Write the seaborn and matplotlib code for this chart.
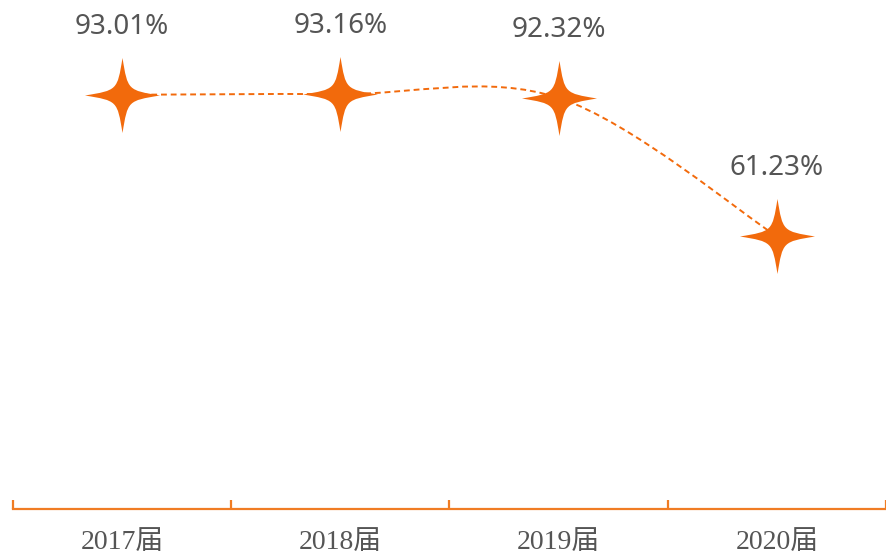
import numpy as np
import pandas as pd
import matplotlib
matplotlib.use("Agg")
import matplotlib.pyplot as plt
import seaborn as sns
from matplotlib.path import Path
from matplotlib.patches import PathPatch

ORANGE = "#F26A0C"
AXIS = "#F07C24"
GRAY = "#555555"

years = ["2017届", "2018届", "2019届", "2020届"]
rates = [93.01, 93.16, 92.32, 61.23]
labels = ["93.01%", "93.16%", "92.32%", "61.23%"]

sns.set_theme(style="white")
plt.rcParams["font.family"] = ["Noto Sans", "DejaVu Sans"]

df = pd.DataFrame({"pos": np.arange(len(years)), "rate": rates})

# four-pointed sparkle marker
k = 0.14
verts = [(0, 1), (k, k), (k, k), (1, 0),
         (k, -k), (k, -k), (0, -1),
         (-k, -k), (-k, -k), (-1, 0),
         (-k, k), (-k, k), (0, 1), (0, 1)]
codes = [Path.MOVETO] + [Path.CURVE4] * 12 + [Path.CLOSEPOLY]
star = Path(verts, codes)

fig = plt.figure(figsize=(8.87, 5.57), dpi=100)
ax = fig.add_axes([13 / 887, 48 / 557, 873 / 887, 509 / 557])

# smooth dashed curve through the points (cardinal bezier)
pts = df[["pos", "rate"]].to_numpy(dtype=float)
s = 1 / 6
pv = [tuple(pts[0])]
pc = [Path.MOVETO]
n = len(pts)
for i in range(n - 1):
    p0 = pts[i - 1] if i > 0 else pts[i]
    p1, p2 = pts[i], pts[i + 1]
    p3 = pts[i + 2] if i + 2 < n else pts[i + 1]
    c1 = p1 + s * (p2 - p0)
    c2 = p2 - s * (p3 - p1)
    pv += [tuple(c1), tuple(c2), tuple(p2)]
    pc += [Path.CURVE4] * 3
ax.add_patch(PathPatch(Path(pv, pc), fill=False, edgecolor=ORANGE,
                       lw=1.4, linestyle=(0, (3, 2)), zorder=2))

sns.lineplot(data=df, x="pos", y="rate", ax=ax, linestyle="", marker=star,
             markersize=54, color=ORANGE, markeredgewidth=0, zorder=3)

for x, y, t in zip(df["pos"], df["rate"], labels):
    ax.annotate(t, (x, y), xytext=(0, 39), textcoords="offset points",
                ha="center", va="bottom", fontsize=20, color=GRAY)

ax.set_xlim(-0.5, 3.5)
ax.set_ylim(0, 114.3)
ax.set_xticks(range(len(years)))
ax.set_xticklabels(years, family=["Liberation Serif", "Noto Sans CJK SC"],
                   fontsize=20, color=GRAY)
ax.set_xticks(np.arange(-0.5, 3.6, 1), minor=True)
ax.tick_params(axis="x", which="major", length=0, pad=15)
ax.tick_params(axis="x", which="minor", length=6.5, width=1.6,
               direction="in", color=AXIS, bottom=True)
ax.set_yticks([])
ax.set_xlabel("")
ax.set_ylabel("")
for side in ["top", "left", "right"]:
    ax.spines[side].set_visible(False)
ax.spines["bottom"].set_color(AXIS)
ax.spines["bottom"].set_linewidth(1.6)

fig.savefig("out.png", dpi=100)
